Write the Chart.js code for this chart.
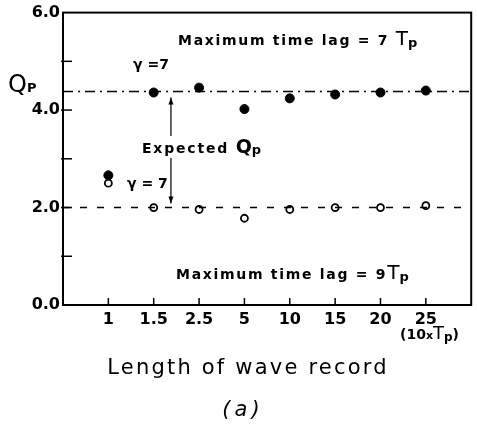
<!DOCTYPE html>
<html><head><meta charset="utf-8">
<script src="https://cdn.jsdelivr.net/npm/chart.js@4/dist/chart.umd.min.js"></script>
<style>html,body{margin:0;padding:0;background:#fff}#wrap{width:477px;height:425px}</style>
</head><body><div id="wrap"><canvas id="c" width="477" height="425"></canvas></div>
<script>
const categories = ['1','1.5','2.5','5','10','15','20','25'];
const qpMaxLag7 = [2.66, 4.36, 4.46, 4.02, 4.24, 4.32, 4.36, 4.40];
const qpMaxLag9 = [2.50, 2.00, 1.96, 1.78, 1.96, 2.00, 2.00, 2.04];
const expectedLag7 = 4.38;
const expectedLag9 = 2.0;
const yTickValues = [0, 2, 4, 6];
const yTickLabels = ['0.0', '2.0', '4.0', '6.0'];

const FONT = '"DejaVu Sans", sans-serif';

function richText(ctx, parts, x, y) {
  let cx = x;
  for (const p of parts) {
    ctx.font = p.font;
    ctx.letterSpacing = p.ls || '0px';
    ctx.fillText(p.t, cx, y + (p.dy || 0));
    cx += ctx.measureText(p.t).width;
  }
}

const overlay = {
  id: 'overlay',
  afterDatasetsDraw(chart) {
    const ctx = chart.ctx, a = chart.chartArea;
    const xs = chart.scales.x, ys = chart.scales.y;
    ctx.save();
    ctx.strokeStyle = '#000'; ctx.fillStyle = '#000';
    // frame
    ctx.lineWidth = 2;
    ctx.strokeRect(a.left, a.top, a.right - a.left, a.bottom - a.top);
    // inward ticks
    ctx.lineWidth = 1.5;
    for (let v = 1; v <= 5; v++) {
      const py = ys.getPixelForValue(v);
      ctx.beginPath(); ctx.moveTo(a.left - 2, py); ctx.lineTo(a.left + 9, py); ctx.stroke();
    }
    categories.forEach((c, i) => {
      const px = xs.getPixelForValue(i + 1);
      ctx.beginPath(); ctx.moveTo(px, a.bottom); ctx.lineTo(px, a.bottom - 7); ctx.stroke();
    });
    // arrow between expected lines
    const ax = xs.getPixelForValue(2.38);
    const yT = ys.getPixelForValue(expectedLag7) + 6;
    const yB = ys.getPixelForValue(expectedLag9) - 4;
    ctx.lineWidth = 1.2;
    ctx.beginPath(); ctx.moveTo(ax, yT); ctx.lineTo(ax, 136); ctx.moveTo(ax, 158); ctx.lineTo(ax, yB); ctx.stroke();
    ctx.beginPath(); ctx.moveTo(ax, yT); ctx.lineTo(ax - 2.5, yT + 7); ctx.lineTo(ax + 2.5, yT + 7); ctx.closePath(); ctx.fill();
    ctx.beginPath(); ctx.moveTo(ax, yB); ctx.lineTo(ax - 2.5, yB - 7); ctx.lineTo(ax + 2.5, yB - 7); ctx.closePath(); ctx.fill();
    // texts
    ctx.textBaseline = 'alphabetic'; ctx.textAlign = 'left';
    const bold14 = 'bold 14px ' + FONT;
    richText(ctx, [
      {t: 'Maximum time lag = 7 ', font: bold14, ls: '1.7px'},
      {t: 'T', font: '20px ' + FONT},
      {t: 'p', font: 'bold 13px ' + FONT, dy: 2}
    ], 178, 45);
    richText(ctx, [
      {t: 'Maximum time lag = 9', font: bold14, ls: '1.7px'},
      {t: 'T', font: '20px ' + FONT},
      {t: 'p', font: 'bold 13px ' + FONT, dy: 2}
    ], 176, 279);
    richText(ctx, [
      {t: 'Q', font: '24px ' + FONT},
      {t: 'P', font: 'bold 13px ' + FONT, dy: 0}
    ], 8, 92);
    richText(ctx, [{t: 'γ =7', font: 'bold 14px ' + FONT}], 133, 69);
    richText(ctx, [{t: 'γ = 7', font: 'bold 14px ' + FONT}], 127, 188);
    richText(ctx, [
      {t: 'Expected ', font: bold14, ls: '1.8px'},
      {t: 'Q', font: 'bold 19px ' + FONT},
      {t: 'p', font: 'bold 13px ' + FONT, dy: 1}
    ], 142, 153);
    richText(ctx, [
      {t: '(10', font: 'bold 14px ' + FONT},
      {t: 'x', font: 'bold 11px ' + FONT},
      {t: 'T', font: '18px ' + FONT},
      {t: 'p', font: 'bold 12px ' + FONT, dy: 2},
      {t: ')', font: 'bold 14px ' + FONT}
    ], 400, 339);
    ctx.textAlign = 'center';
    ctx.font = '21px ' + FONT; ctx.letterSpacing = '2.2px';
    ctx.fillText('Length of wave record', 248, 374);
    ctx.font = 'italic 21px ' + FONT; ctx.letterSpacing = '4px';
    ctx.fillText('(a)', 243, 416);
    ctx.restore();
  }
};

new Chart(document.getElementById('c'), {
  type: 'scatter',
  data: {
    datasets: [
      {label: 'Expected (lag 7Tp)', data: [{x: 0, y: expectedLag7}, {x: 9, y: expectedLag7}], showLine: true,
       borderColor: '#000', borderWidth: 1.4, borderDash: [10, 5, 2, 5], pointRadius: 0},
      {label: 'Expected (lag 9Tp)', data: [{x: 0, y: expectedLag9}, {x: 9, y: expectedLag9}], showLine: true,
       borderColor: '#000', borderWidth: 1.4, borderDash: [7, 10], pointRadius: 0},
      {label: 'Max time lag 7Tp', data: qpMaxLag7.map((v, i) => ({x: i + 1, y: v})),
       pointRadius: 4.5, backgroundColor: '#000', borderColor: '#000', borderWidth: 1},
      {label: 'Max time lag 9Tp', data: qpMaxLag9.map((v, i) => ({x: i + 1, y: v})),
       pointRadius: 3.5, backgroundColor: '#fff', borderColor: '#000', borderWidth: 1.8}
    ]
  },
  options: {
    responsive: false, animation: false, devicePixelRatio: 1,
    layout: {padding: {top: 8, right: 5, left: 0, bottom: 0}},
    plugins: {legend: {display: false}, tooltip: {enabled: false}},
    scales: {
      x: {
        type: 'linear', min: 0, max: 9,
        afterBuildTicks: s => { s.ticks = categories.map((c, i) => ({value: i + 1})); },
        afterFit: s => { s.height = 120; },
        ticks: {callback: v => categories[v - 1] ?? '', color: '#000', padding: 5, maxRotation: 0,
                font: {family: FONT, size: 16, weight: 'bold'}},
        grid: {display: false, drawTicks: false},
        border: {display: true, color: '#000', width: 2}
      },
      y: {
        min: 0, max: 6,
        afterBuildTicks: s => { s.ticks = [0, 1, 2, 3, 4, 5, 6].map(v => ({value: v})); },
        afterFit: s => { s.width = 63; },
        ticks: {callback: v => { const i = yTickValues.indexOf(v); return i >= 0 ? yTickLabels[i] : ''; },
                color: '#000', padding: 3, font: {family: FONT, size: 16, weight: 'bold'}},
        grid: {display: false, drawTicks: false},
        border: {display: true, color: '#000', width: 2}
      }
    }
  },
  plugins: [overlay]
});
</script></body></html>
